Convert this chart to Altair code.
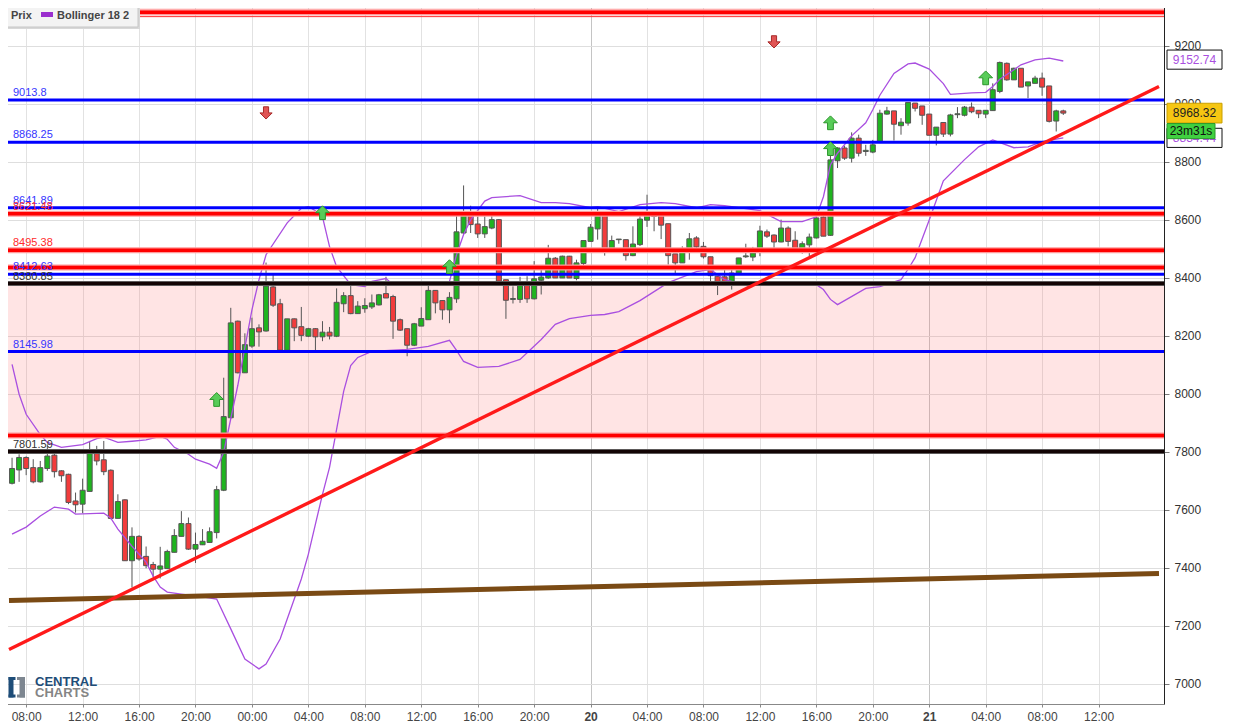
import altair as alt
import pandas as pd

W, H = 1160, 701

# ---------------- data ----------------
START = "2019-10-18 07:00"   # 30-minute candles
opens = [7692, 7738, 7781, 7746, 7697, 7743, 7789, 7735, 7723, 7631,
         7620, 7664, 7801, 7773, 7737, 7571, 7635, 7425, 7509, 7440,
         7412, 7396, 7398, 7454, 7509, 7553, 7465, 7480, 7488, 7522,
         7668, 7918, 8251, 8073, 8165, 8228, 8217, 8369, 8311, 8151,
         8259, 8232, 8199, 8225, 8197, 8213, 8199, 8311, 8339, 8277,
         8294, 8300, 8307, 8346, 8336, 8256, 8225, 8168, 8234, 8256,
         8357, 8322, 8290, 8328, 8555, 8616, 8586, 8552, 8572, 8601,
         8394, 8326, 8326, 8374, 8328, 8392, 8400, 8468, 8400, 8475,
         8398, 8450, 8526, 8569, 8618, 8500, 8532, 8532, 8477, 8515,
         8599, 8620, 8616, 8587, 8483, 8452, 8498, 8538, 8509, 8473,
         8406, 8404, 8386, 8417, 8473, 8472, 8498, 8559, 8548, 8524,
         8572, 8530, 8500, 8514, 8538, 8610, 8547, 8804, 8848, 8813,
         8882, 8836, 8834, 8868, 8965, 8976, 8925, 8934, 9003, 8993,
         8965, 8892, 8936, 8896, 8963, 8961, 8989, 8978, 8965, 8977,
         9043, 9140, 9083, 9123, 9062, 9071, 9089, 9062, 8941, 8976]
highs = [7780, 7792, 7785, 7775, 7769, 7826, 7804, 7737, 7725, 7660,
         7708, 7838, 7821, 7838, 7740, 7654, 7637, 7540, 7513, 7474,
         7421, 7473, 7463, 7534, 7596, 7574, 7522, 7534, 7540, 7683,
         8056, 8297, 8253, 8209, 8263, 8240, 8453, 8417, 8328, 8259,
         8260, 8300, 8228, 8227, 8251, 8231, 8364, 8351, 8372, 8320,
         8330, 8343, 8345, 8404, 8342, 8260, 8225, 8245, 8299, 8374,
         8357, 8322, 8351, 8616, 8719, 8649, 8612, 8612, 8630, 8603,
         8394, 8371, 8404, 8406, 8458, 8443, 8514, 8472, 8477, 8476,
         8463, 8529, 8586, 8638, 8622, 8546, 8534, 8532, 8578, 8625,
         8687, 8625, 8616, 8587, 8483, 8509, 8555, 8544, 8524, 8473,
         8406, 8429, 8431, 8469, 8518, 8507, 8580, 8567, 8550, 8601,
         8578, 8561, 8526, 8553, 8612, 8615, 8836, 8851, 8856, 8902,
         8894, 8859, 8876, 8980, 8990, 8976, 8951, 9005, 9003, 8993,
         8965, 8920, 8936, 8966, 8989, 8993, 9005, 8978, 8978, 9071,
         9146, 9143, 9125, 9123, 9076, 9097, 9108, 9062, 8980, 8980]
lows = [7688, 7697, 7720, 7692, 7694, 7735, 7712, 7697, 7620, 7591,
        7589, 7664, 7754, 7720, 7568, 7571, 7425, 7333, 7425, 7399,
        7368, 7364, 7396, 7454, 7509, 7462, 7417, 7479, 7488, 7502,
        7665, 7915, 8071, 8073, 8159, 8163, 8215, 8300, 8151, 8151,
        8182, 8182, 8196, 8148, 8182, 8188, 8196, 8282, 8275, 8277,
        8280, 8293, 8305, 8331, 8190, 8217, 8130, 8165, 8234, 8256,
        8278, 8256, 8244, 8314, 8550, 8555, 8538, 8538, 8568, 8383,
        8259, 8312, 8314, 8314, 8326, 8343, 8397, 8400, 8400, 8400,
        8392, 8443, 8526, 8532, 8477, 8500, 8518, 8460, 8475, 8510,
        8576, 8561, 8534, 8446, 8417, 8452, 8463, 8503, 8467, 8383,
        8341, 8377, 8360, 8412, 8469, 8458, 8475, 8538, 8498, 8523,
        8509, 8486, 8484, 8475, 8536, 8544, 8545, 8779, 8807, 8798,
        8819, 8821, 8830, 8865, 8963, 8874, 8894, 8925, 8974, 8928,
        8892, 8857, 8886, 8888, 8951, 8957, 8968, 8951, 8951, 8977,
        9037, 9080, 9083, 9058, 9020, 9071, 9028, 8936, 8905, 8962]
closes = [7743, 7781, 7743, 7697, 7746, 7786, 7732, 7718, 7626, 7618,
          7668, 7801, 7769, 7732, 7571, 7629, 7425, 7509, 7431, 7408,
          7396, 7407, 7457, 7512, 7553, 7465, 7481, 7492, 7525, 7670,
          7922, 8245, 8073, 8170, 8225, 8214, 8372, 8306, 8151, 8259,
          8228, 8202, 8225, 8197, 8213, 8200, 8316, 8339, 8277, 8303,
          8305, 8314, 8342, 8331, 8251, 8220, 8168, 8242, 8260, 8357,
          8314, 8290, 8333, 8559, 8616, 8584, 8552, 8577, 8601, 8389,
          8323, 8329, 8374, 8328, 8397, 8403, 8468, 8400, 8475, 8400,
          8452, 8529, 8575, 8616, 8500, 8529, 8534, 8477, 8517, 8603,
          8616, 8612, 8582, 8477, 8452, 8500, 8535, 8507, 8473, 8408,
          8383, 8383, 8417, 8469, 8476, 8486, 8562, 8544, 8524, 8572,
          8526, 8500, 8518, 8541, 8607, 8544, 8807, 8848, 8813, 8882,
          8830, 8840, 8859, 8968, 8976, 8930, 8937, 9005, 8985, 8961,
          8892, 8920, 8896, 8962, 8966, 8989, 8973, 8966, 8978, 9049,
          9143, 9083, 9123, 9058, 9076, 9089, 9058, 8940, 8976, 8968.32]

# Bollinger 18 2 (candle index, value)
up_idx = [0, 1, 2, 4, 5, 7, 10, 12, 13, 15, 17, 19, 21, 22, 23, 25, 26, 28, 29, 30,
          32, 34, 35, 36, 39, 41, 42, 43, 44, 45, 46, 48, 50, 51, 53, 54, 58, 62, 63, 64,
          65, 67, 68, 72, 75, 77, 79, 82, 83, 86, 89, 92, 94, 97, 99, 101, 106, 109, 112, 114,
          115, 116, 117, 119, 121, 122, 123, 125, 127, 128, 130, 132, 133, 136, 138, 139, 140, 142, 143, 145,
          147, 149]
up_val = [8102, 7999, 7930, 7860, 7833, 7816, 7825, 7846, 7851, 7833, 7837, 7842, 7854, 7844, 7816, 7792, 7775, 7758, 7744, 7799,
          8030, 8290, 8394, 8480, 8590, 8640, 8646, 8632, 8611, 8508, 8439, 8377, 8370, 8388, 8398, 8377, 8377, 8388, 8480, 8550,
          8600, 8665, 8677, 8684, 8660, 8660, 8656, 8642, 8646, 8629, 8653, 8660, 8656, 8642, 8653, 8649, 8632, 8594, 8594, 8611,
          8680, 8790, 8830, 8890, 8935, 8980, 9030, 9105, 9138, 9141, 9120, 9070, 9033, 9038, 9040, 9060, 9085, 9118, 9135, 9152,
          9158, 9148]
lo_idx = [0, 2, 4, 6, 8, 9, 13, 14, 15, 17, 19, 20, 21, 22, 24, 27, 29, 31, 33, 35,
          36, 38, 39, 41, 42, 43, 44, 45, 46, 47, 48, 49, 51, 56, 59, 62, 63, 64, 66, 69,
          72, 75, 77, 79, 82, 84, 86, 89, 93, 97, 99, 101, 104, 108, 111, 114, 115, 116, 117, 121,
          123, 126, 127, 128, 130, 132, 135, 137, 139, 142, 144, 146, 149]
lo_val = [7517, 7541, 7579, 7610, 7603, 7586, 7589, 7572, 7534, 7475, 7420, 7372, 7334, 7317, 7310, 7300, 7293, 7190, 7086, 7052,
          7069, 7155, 7224, 7362, 7448, 7551, 7654, 7747, 7878, 8009, 8098, 8126, 8147, 8154, 8164, 8185, 8150, 8112, 8092, 8095,
          8119, 8188, 8240, 8260, 8271, 8274, 8284, 8322, 8384, 8422, 8429, 8394, 8377, 8377, 8384, 8377, 8360, 8326, 8308, 8364,
          8370, 8394, 8430, 8470, 8600, 8735, 8808, 8852, 8876, 8849, 8852, 8870, 8883]

blue_levels = [9013.8, 8868.25, 8641.89, 8412.63, 8145.98]
blue_labels = ["9013.8", "8868.25", "8641.89", "8412.63", "8145.98"]
red_levels = [9316, 8621.48, 8495.38, 8436, 7857]
red_labels = ["", "8621.48", "8495.38", "", ""]
red_thin_levels = [9301]
black_levels = [8380.85, 7801.59]
black_labels = ["8380.85", "7801.59"]

zone_lo, zone_hi = [7857, 9301], [8380.85, 9348]

trend_t = ["2019-10-18T06:47:00Z", "2019-10-21T16:17:00Z"]
red_trend = [7119, 9060]
brown_trend = [7288, 7381]

arrow_up_idx = [29, 44, 62, 116, 116, 138]
arrow_up_val = [7981, 8625, 8439, 8935, 8846, 9090]
arrow_dn_idx = [36, 108]
arrow_dn_val = [8969, 9214]

upper_label, lower_label, last_label, timer_label = "9152.74", "8834.44", "8968.32", "23m31s"

y_ticks = [7000, 7200, 7400, 7600, 7800, 8000, 8200, 8400, 8600, 8800, 9000, 9200]
x_tick_times = pd.date_range("2019-10-18 08:00", "2019-10-21 12:00", freq="4h")

# ---------------- frames ----------------
times = pd.date_range(START, periods=len(opens), freq="30min")
iso = lambda ts: ts.strftime("%Y-%m-%dT%H:%M:%SZ")
candles = pd.DataFrame({"t": [iso(x) for x in times], "o": opens, "h": highs,
                        "l": lows, "c": closes})
upper = pd.DataFrame({"t": [iso(times[i]) for i in up_idx], "v": up_val})
lower = pd.DataFrame({"t": [iso(times[i]) for i in lo_idx], "v": lo_val})
blue_df = pd.DataFrame({"v": blue_levels, "lab": blue_labels})
red_df = pd.DataFrame({"v": red_levels, "lab": red_labels})
red_thin_df = pd.DataFrame({"v": red_thin_levels})
black_df = pd.DataFrame({"v": black_levels, "lab": black_labels})
zones = pd.DataFrame({"lo": zone_lo, "hi": zone_hi})
trends_red = pd.DataFrame({"t": trend_t, "v": red_trend})
trends_brown = pd.DataFrame({"t": trend_t, "v": brown_trend})
arr_up = pd.DataFrame({"t": [iso(times[i]) for i in arrow_up_idx], "v": arrow_up_val})
arr_dn = pd.DataFrame({"t": [iso(times[i]) for i in arrow_dn_idx], "v": arrow_dn_val})
one = pd.DataFrame({"k": [0]})

x_tick_ms = [int(ts.timestamp() * 1000) for ts in x_tick_times]

# ---------------- scales / axes ----------------
FONT = "Liberation Sans"
xs = alt.Scale(type="utc", domain=[
    alt.DateTime(year=2019, month=10, date=18, hours=6, minutes=47, utc=True),
    alt.DateTime(year=2019, month=10, date=21, hours=16, minutes=17, utc=True)])
ys = alt.Scale(domain=[6931, 9348], nice=False, zero=False)

day_test = "utchours(datum.value)==0 && utcdate(datum.value)!=19"
xaxis = alt.Axis(
    values=x_tick_ms, title=None, grid=True,
    gridColor={"condition": {"test": day_test, "value": "#c4c4c4"}, "value": "#e2e2e2"},
    labelExpr=f"({day_test}) ? utcFormat(datum.value, '%d') : utcFormat(datum.value, '%H:%M')",
    labelFontWeight={"condition": {"test": day_test, "value": "bold"}, "value": "normal"},
    domainColor="#888", tickColor="#888", tickSize=3, labelPadding=4,
    labelColor="#444", labelFontSize=12, labelFont=FONT, labelOverlap=False)
yaxis = alt.Axis(
    orient="right", values=y_ticks, format="d", title=None, grid=True,
    gridColor="#dedede", domainColor="#222", tickColor="#777", tickSize=5,
    labelPadding=5, labelColor="#333", labelFontSize=12, labelFont=FONT)


def X():
    return alt.X("t:T", scale=xs, axis=xaxis, title=None)


def Y(f):
    return alt.Y(f"{f}:Q", scale=ys, axis=yaxis, title=None)


layers = []

# pink zones
layers.append(alt.Chart(zones).mark_rect(color="#f77", opacity=0.2).encode(
    x=alt.value(0), x2=alt.value(W), y=Y("lo"), y2="hi"))

# candles
layers.append(alt.Chart(candles).mark_rule(color="#555", strokeWidth=1).encode(
    x=X(), y=Y("l"), y2="h"))
layers.append(alt.Chart(candles).mark_bar(size=5, stroke="#555", strokeWidth=1).encode(
    x=X(), y=Y("o"), y2="c",
    color=alt.condition("datum.c >= datum.o", alt.value("#1fb41f"), alt.value("#f23c3c"))))

# Bollinger
for band in (upper, lower):
    layers.append(alt.Chart(band).mark_line(color="#a94fe0", strokeWidth=1.3).encode(
        x=X(), y=Y("v")))

# level lines
layers.append(alt.Chart(red_df).mark_rule(color="#ff9a9a", strokeWidth=6).encode(y=Y("v")))
layers.append(alt.Chart(red_df).mark_rule(color="#ff0000", strokeWidth=3.6).encode(y=Y("v")))
layers.append(alt.Chart(red_thin_df).mark_rule(color="#ff3030", strokeWidth=1).encode(y=Y("v")))
layers.append(alt.Chart(blue_df).mark_rule(color="#0000ff", strokeWidth=3).encode(y=Y("v")))
layers.append(alt.Chart(black_df).mark_rule(color="#777", strokeWidth=5).encode(y=Y("v")))
layers.append(alt.Chart(black_df).mark_rule(color="#120404", strokeWidth=3.4).encode(y=Y("v")))

# level labels
for df, col in ((blue_df, "#3535ff"), (red_df[red_df.lab != ""], "#ff2a2a"), (black_df, "#333")):
    layers.append(alt.Chart(df).mark_text(align="left", baseline="bottom", dy=-2,
                                          fontSize=11, font=FONT, color=col).encode(
        x=alt.value(9), y=Y("v"), text="lab:N"))

# trend lines
layers.append(alt.Chart(trends_brown).mark_line(color="#7a4a14", strokeWidth=5).encode(
    x=X(), y=Y("v")))
layers.append(alt.Chart(trends_red).mark_line(color="#ff1a1a", strokeWidth=3.4).encode(
    x=X(), y=Y("v")))

# arrows
UP = "M-0.42,1L0.42,1L0.42,0L1,0L0,-1L-1,0L-0.42,0Z"
DN = "M-0.42,-1L0.42,-1L0.42,0L1,0L0,1L-1,0L-0.42,0Z"
layers.append(alt.Chart(arr_up).mark_point(shape=UP, size=190, filled=True, opacity=1,
                                           color="#58cc58", stroke="#2c962c", strokeWidth=1).encode(
    x=X(), y=Y("v")))
layers.append(alt.Chart(arr_dn).mark_point(shape=DN, size=150, filled=True, opacity=1,
                                           color="#e05454", stroke="#a82a2a", strokeWidth=1).encode(
    x=X(), y=Y("v")))


# value boxes on the right
def vbox(text, center, half, fill, stroke, tcolor, xr):
    d = pd.DataFrame({"v": [center], "top": [center + half], "bot": [center - half], "txt": [text]})
    r = alt.Chart(d).mark_rect(fill=fill, stroke=stroke, strokeWidth=1).encode(
        x=alt.value(W + 3), x2=alt.value(W + xr), y=Y("top"), y2="bot")
    t = alt.Chart(d).mark_text(fontSize=12, font=FONT, color=tcolor, align="center",
                               baseline="middle").encode(
        x=alt.value(W + 3 + (xr - 3) / 2), y=Y("v"), text="txt:N")
    return [r, t]


layers += vbox(upper_label, float(upper_label), 33, "#ffffff", "#111", "#a94fe0", 58)
layers += vbox(lower_label, lo_val[-1], 33, "#ffffff", "#111", "#a94fe0", 58)
layers += vbox(last_label, closes[-1], 34, "#f6c612", "#c9a000", "#222", 58)
layers += vbox(timer_label, closes[-1] - 62, 26, "#40d040", "#2a9a2a", "#111", 51)


# legend box
def rect(x1, x2, y1, y2, **kw):
    return alt.Chart(one).mark_rect(**kw).encode(
        x=alt.value(x1), x2=alt.value(x2), y=alt.value(y1), y2=alt.value(y2))


def txt(x, y, s, **kw):
    return alt.Chart(one).mark_text(text=s, font=FONT, align="left", baseline="middle", **kw).encode(
        x=alt.value(x), y=alt.value(y))


layers.append(rect(1, 136, 2, 26, fill="#d8d8d8"))
layers.append(rect(-1, 134, 0, 24, fill="#f3f3f3", stroke="#c6c6c6", strokeWidth=1))
layers.append(txt(7, 12.5, "Prix", fontSize=11, fontWeight="bold", color="#454545"))
layers.append(rect(37, 49, 9, 14, fill="#9b2fce"))
layers.append(txt(53, 12.5, "Bollinger 18 2", fontSize=11, fontWeight="bold", color="#454545"))

# logo
layers.append(rect(4.5, 9.5, 674, 694.5, fill="#1e4d78"))
layers.append(rect(4.5, 11.5, 674, 677, fill="#1e4d78"))
layers.append(rect(4.5, 11.5, 691.5, 694.5, fill="#1e4d78"))
layers.append(rect(15.5, 21, 674, 694.5, fill="#7d8690"))
layers.append(rect(13, 21, 674, 677, fill="#7d8690"))
layers.append(rect(13, 21, 691.5, 694.5, fill="#7d8690"))
layers.append(txt(31, 679, "CENTRAL", fontSize=13, fontWeight="bold", color="#1e4d78"))
layers.append(txt(31, 690, "CHARTS", fontSize=13, fontWeight="bold", color="#858585"))

chart = alt.layer(*layers).properties(
    width=W, height=H, autosize="none",
    padding={"left": -4, "top": -5, "right": 62, "bottom": 18},
    background="white",
).configure_view(stroke=None)

chart.save("out.html", embed_options={"renderer": "svg", "actions": False})
